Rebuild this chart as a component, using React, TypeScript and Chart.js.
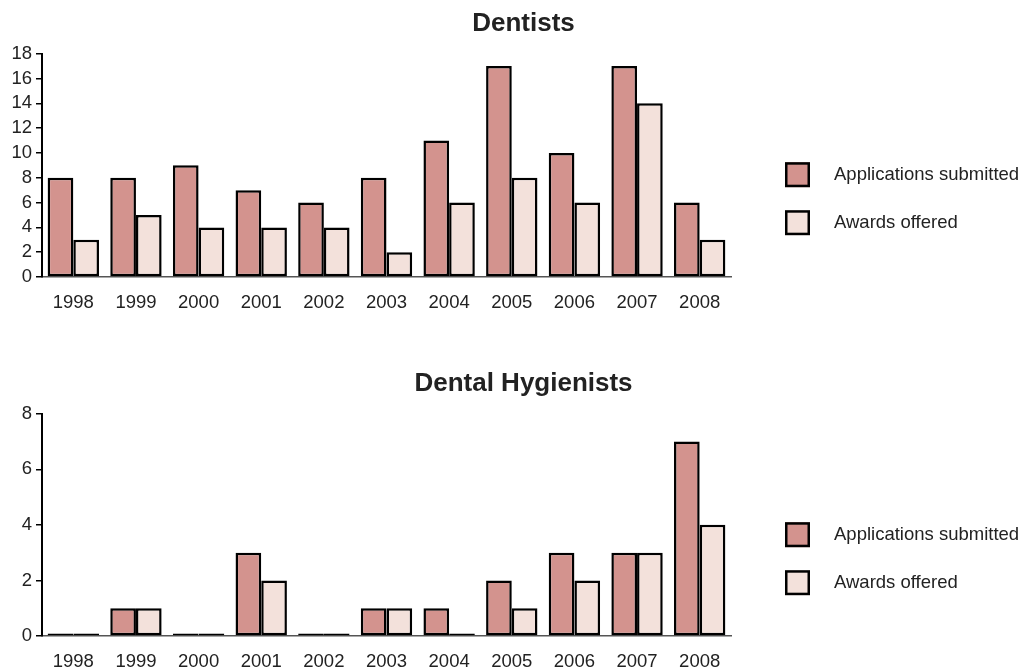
import React, { useEffect, useRef } from "react";
import { Chart, registerables } from "chart.js";

Chart.register(...registerables);

const years = ["1998", "1999", "2000", "2001", "2002", "2003", "2004", "2005", "2006", "2007", "2008"];
const dentistsApplications = [8, 8, 9, 7, 6, 8, 11, 17, 10, 17, 6];
const dentistsAwards = [3, 5, 4, 4, 4, 2, 6, 8, 6, 14, 3];
const hygienistsApplications = [0, 1, 0, 3, 0, 1, 1, 2, 3, 3, 7];
const hygienistsAwards = [0, 1, 0, 2, 0, 1, 0, 1, 2, 3, 4];
const seriesLabels = ["Applications submitted", "Awards offered"];
const seriesColors = ["#d3938e", "#f3e1db"];

const FONT = "'Liberation Sans', Arial, Helvetica, sans-serif";
const TEXT = "#222222";

const legendPlugin = {
  id: "sideLegend",
  afterDraw(chart: any) {
    const { ctx, chartArea } = chart;
    ctx.save();
    chart.data.datasets.forEach((ds: any, i: number) => {
      const cy = chartArea.top + 121 + i * 48;
      const bx = chartArea.right + 54;
      const size = 25;
      ctx.fillStyle = ds.backgroundColor;
      ctx.fillRect(bx, cy - size / 2, size, size);
      ctx.lineWidth = 2.5;
      ctx.strokeStyle = "#000";
      ctx.strokeRect(bx + 1.25, cy - size / 2 + 1.25, size - 2.5, size - 2.5);
      ctx.fillStyle = TEXT;
      ctx.font = `18.5px ${FONT}`;
      ctx.textBaseline = "middle";
      ctx.textAlign = "left";
      ctx.fillText(ds.label, bx + 49, cy);
    });
    ctx.restore();
  },
};

function BarPanel(props: { title: string; apps: number[]; awards: number[]; max: number; height: number; padBottom: number }) {
  const ref = useRef<HTMLCanvasElement | null>(null);
  useEffect(() => {
    if (!ref.current) return;
    const chart = new Chart(ref.current, {
      type: "bar",
      data: {
        labels: years,
        datasets: [
          { label: seriesLabels[0], data: props.apps, backgroundColor: seriesColors[0] },
          { label: seriesLabels[1], data: props.awards, backgroundColor: seriesColors[1] },
        ],
      },
      options: {
        animation: false,
        responsive: false,
        maintainAspectRatio: false,
        datasets: {
          bar: {
            borderColor: "#000",
            borderWidth: 2.5,
            borderSkipped: false,
            categoryPercentage: 0.82,
            barPercentage: 1,
            minBarLength: 2.5,
          },
        } as any,
        layout: { padding: { left: 0, right: -20, top: 0, bottom: props.padBottom } },
        plugins: {
          legend: { display: false },
          tooltip: { enabled: false },
          title: {
            display: true,
            text: props.title,
            color: TEXT,
            font: { family: FONT, size: 26, weight: "bold", lineHeight: 1.2 },
            padding: { top: 8, bottom: 14.5 },
          },
        },
        scales: {
          x: {
            grid: { display: false, drawTicks: false },
            border: { display: true, color: "#555", width: 1.5 },
            ticks: { color: TEXT, font: { family: FONT, size: 18.5, lineHeight: 1 }, padding: 16.5, maxRotation: 0 },
          },
          y: {
            min: 0,
            max: props.max,
            afterFit(scale: any) {
              scale.width = 42;
            },
            grid: { display: true, drawOnChartArea: false, drawTicks: true, tickLength: 6, color: "#000", lineWidth: 1.5 },
            border: { display: true, color: "#000", width: 2 },
            ticks: { stepSize: 2, color: TEXT, font: { family: FONT, size: 18.5, lineHeight: 1 }, padding: 4 },
          },
          legendSpace: {
            type: "linear",
            position: "right",
            display: true,
            afterFit(scale: any) {
              scale.width = 316;
            },
            grid: { display: false, drawTicks: false },
            border: { display: false },
            ticks: { display: false },
          },
        } as any,
      },
      plugins: [legendPlugin],
    });
    return () => chart.destroy();
  }, []);
  return (
    <div style={{ width: 1027, height: props.height }}>
      <canvas ref={ref} width={1027} height={props.height} style={{ display: "block", width: 1027, height: props.height }} />
    </div>
  );
}

export default function App() {
  return (
    <div style={{ position: "absolute", left: 0, top: 0, width: 1027, height: 667, background: "#fff", overflow: "hidden" }}>
      <BarPanel title="Dentists" apps={dentistsApplications} awards={dentistsAwards} max={18} height={360} padBottom={31.5} />
      <BarPanel title="Dental Hygienists" apps={hygienistsApplications} awards={hygienistsAwards} max={8} height={328} padBottom={0.5} />
    </div>
  );
}
